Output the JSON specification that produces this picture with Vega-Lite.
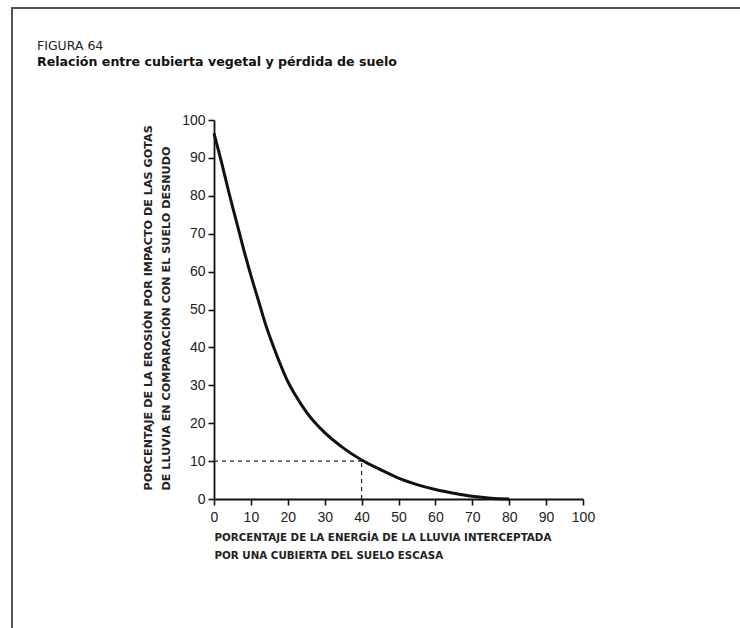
{
  "$schema": "https://vega.github.io/schema/vega-lite/v6.json",
  "width": 740,
  "height": 632,
  "autosize": {"type": "none"},
  "padding": {"left": 12, "top": 8, "right": -12, "bottom": -12},
  "background": "white",
  "config": {
    "view": {"stroke": "#555", "strokeWidth": 2},
    "font": "Liberation Sans"
  },
  "title": {
    "text": "FIGURA 64",
    "subtitle": "Relación entre cubierta vegetal y pérdida de suelo",
    "anchor": "start",
    "frame": "group",
    "orient": "top",
    "offset": 0,
    "dx": 25,
    "dy": 61,
    "font": "DejaVu Sans",
    "fontSize": 12.5,
    "fontWeight": "normal",
    "color": "#222",
    "subtitleFont": "DejaVu Sans",
    "subtitleFontSize": 12.6,
    "subtitleFontWeight": "bold",
    "subtitleColor": "#111",
    "subtitlePadding": 4
  },
  "datasets": {
    "curve": [
      {"energia": 0, "erosion": 96.5},
      {"energia": 2, "erosion": 89},
      {"energia": 4, "erosion": 81},
      {"energia": 6, "erosion": 73.5},
      {"energia": 8, "erosion": 66},
      {"energia": 10, "erosion": 59},
      {"energia": 12, "erosion": 52.5},
      {"energia": 14, "erosion": 46},
      {"energia": 16, "erosion": 40.5},
      {"energia": 18, "erosion": 35.5},
      {"energia": 20, "erosion": 31},
      {"energia": 22, "erosion": 27.5},
      {"energia": 25, "erosion": 23},
      {"energia": 30, "erosion": 17.5},
      {"energia": 35, "erosion": 13.5},
      {"energia": 40, "erosion": 10.3},
      {"energia": 45, "erosion": 7.8},
      {"energia": 50, "erosion": 5.5},
      {"energia": 55, "erosion": 3.8},
      {"energia": 60, "erosion": 2.5},
      {"energia": 65, "erosion": 1.5},
      {"energia": 70, "erosion": 0.7},
      {"energia": 75, "erosion": 0.2},
      {"energia": 80, "erosion": 0}
    ],
    "guides": [
      {"energia": 0, "energia2": 40, "erosion": 10, "erosion2": 10},
      {"energia": 40, "energia2": 40, "erosion": 0, "erosion2": 10}
    ]
  },
  "layer": [
    {
      "data": {"name": "guides"},
      "mark": {"type": "rule", "strokeDash": [4, 4], "strokeWidth": 1.2, "color": "#222"},
      "encoding": {
        "x": {"field": "energia", "type": "quantitative"},
        "x2": {"field": "energia2"},
        "y": {"field": "erosion", "type": "quantitative"},
        "y2": {"field": "erosion2"}
      }
    },
    {
      "data": {"name": "curve"},
      "mark": {"type": "line", "interpolate": "monotone", "color": "#111", "strokeWidth": 3},
      "encoding": {
        "x": {
          "field": "energia",
          "type": "quantitative",
          "scale": {"domain": [0, 100], "range": [202, 571], "nice": false},
          "axis": {
            "orient": "bottom",
            "offset": -141,
            "values": [0, 10, 20, 30, 40, 50, 60, 70, 80, 90, 100],
            "grid": false,
            "domainColor": "#111",
            "domainWidth": 1.8,
            "tickColor": "#111",
            "tickWidth": 1.6,
            "tickSize": 6,
            "labelFont": "Liberation Sans",
            "labelFontSize": 14,
            "labelColor": "#222",
            "labelPadding": 5,
            "labelFlush": false,
            "title": ["PORCENTAJE DE LA ENERGÍA DE LA LLUVIA INTERCEPTADA", "POR UNA CUBIERTA DEL SUELO ESCASA"],
            "titleAnchor": "start",
            "titleAlign": "left",
            "titleFont": "DejaVu Sans",
            "titleFontSize": 10.3,
            "titleFontWeight": "bold",
            "titleColor": "#222",
            "titleLineHeight": 18,
            "titlePadding": 8
          }
        },
        "y": {
          "field": "erosion",
          "type": "quantitative",
          "scale": {"domain": [0, 100], "range": [491, 112], "nice": false},
          "axis": {
            "orient": "left",
            "offset": -202,
            "values": [0, 10, 20, 30, 40, 50, 60, 70, 80, 90, 100],
            "grid": false,
            "domainColor": "#111",
            "domainWidth": 1.8,
            "tickColor": "#111",
            "tickWidth": 1.6,
            "tickSize": 6,
            "labelFont": "Liberation Sans",
            "labelFontSize": 14,
            "labelColor": "#222",
            "labelPadding": 3,
            "labelFlush": false,
            "title": ["PORCENTAJE DE LA EROSIÓN POR IMPACTO DE LAS GOTAS", "DE LLUVIA EN COMPARACIÓN CON EL SUELO DESNUDO"],
            "titleAnchor": "start",
            "titleY": 482,
            "titleFont": "DejaVu Sans",
            "titleFontSize": 11.2,
            "titleFontWeight": "bold",
            "titleColor": "#222",
            "titleLineHeight": 18,
            "titlePadding": 10
          }
        }
      }
    }
  ]
}
